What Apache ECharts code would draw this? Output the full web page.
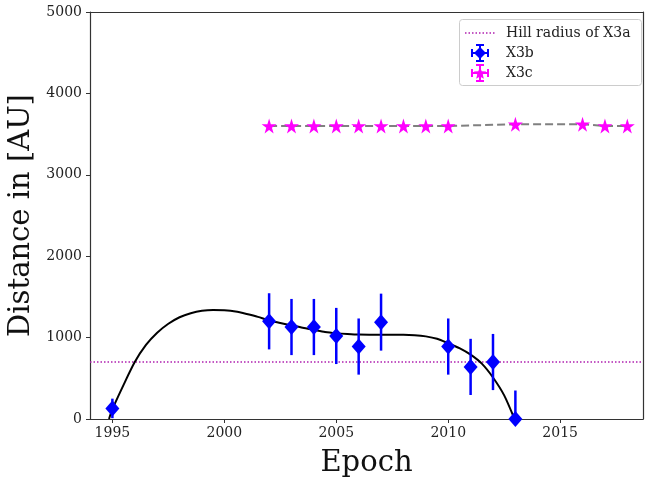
<!DOCTYPE html>
<html>
<head>
<meta charset="utf-8">
<script src="https://cdn.jsdelivr.net/npm/echarts@6/dist/echarts.min.js"></script>
<style>
  html, body { margin: 0; padding: 0; background: #fff; }
  #chart { width: 645px; height: 479px; }
</style>
</head>
<body>
<div id="chart"></div>
<script>
// X3b measurements: epoch, distance, error
var b_epoch = [1995, 2002, 2003, 2004, 2005, 2006, 2007, 2010, 2011, 2012, 2013];
var b_dist  = [130, 1200, 1130, 1130, 1020, 890, 1190, 890, 640, 700, 0];
var b_err   = [120, 345, 345, 345, 345, 345, 350, 345, 345, 345, 350];

// X3c measurements
var c_epoch = [2002, 2003, 2004, 2005, 2006, 2007, 2008, 2009, 2010, 2013, 2016, 2017, 2018];
var c_dist  = [3600, 3600, 3600, 3600, 3600, 3600, 3600, 3600, 3600, 3620, 3620, 3600, 3600];

// fitted curve for X3b
var fit_epoch = [1994.85, 1995, 1995.5, 1996, 1996.5, 1997, 1997.5, 1998, 1998.5, 1999, 1999.5, 2000,
                 2000.5, 2001, 2001.5, 2002, 2002.5, 2003, 2003.5, 2004, 2004.5, 2005, 2005.5, 2006,
                 2007, 2008, 2008.5, 2009, 2009.5, 2010, 2010.5, 2011, 2011.5, 2012, 2012.5, 2012.96];
var fit_dist  = [0, 120, 420, 700, 910, 1060, 1170, 1250, 1300, 1330, 1340, 1335,
                 1320, 1290, 1255, 1210, 1180, 1150, 1120, 1095, 1070, 1055, 1045, 1038,
                 1035, 1035, 1030, 1015, 985, 930, 870, 790, 680, 510, 290, 0];

var hill_radius = 700;
var x_ticks = [1995, 2000, 2005, 2010, 2015];

var serif = "'DejaVu Serif', 'Liberation Serif', serif";
var star = 'path://M50,0 L61,35 L98,35 L68,57 L79,91 L50,70 L21,91 L32,57 L2,35 L39,35 Z';

var chart = echarts.init(document.getElementById('chart'));

function zip(a, b) {
	var out = [];
	for (var i = 0; i < a.length; i++) out.push([a[i], b[i]]);
	return out;
}

var errData = [];
for (var i = 0; i < b_epoch.length; i++) {
	errData.push([b_epoch[i], b_dist[i] - b_err[i], b_dist[i] + b_err[i]]);
}

function renderErr(params, api) {
	var lo = api.coord([api.value(0), api.value(1)]);
	var hi = api.coord([api.value(0), api.value(2)]);
	return {
		type: 'line',
		shape: { x1: lo[0], y1: lo[1], x2: hi[0], y2: hi[1] },
		style: { stroke: '#0000ff', lineWidth: 2.5 }
	};
}

// 图例 (legend drawn by hand to match matplotlib)
var lx = 480;
function errIcon(cx, cy, color) {
	var s = { stroke: color, lineWidth: 2 };
	return [
		{ type: 'line', shape: { x1: cx - 8, y1: cy, x2: cx + 8, y2: cy }, style: s },
		{ type: 'line', shape: { x1: cx, y1: cy - 8, x2: cx, y2: cy + 8 }, style: s },
		{ type: 'line', shape: { x1: cx - 8, y1: cy - 4, x2: cx - 8, y2: cy + 4 }, style: s },
		{ type: 'line', shape: { x1: cx + 8, y1: cy - 4, x2: cx + 8, y2: cy + 4 }, style: s },
		{ type: 'line', shape: { x1: cx - 4, y1: cy - 8, x2: cx + 4, y2: cy - 8 }, style: s },
		{ type: 'line', shape: { x1: cx - 4, y1: cy + 8, x2: cx + 4, y2: cy + 8 }, style: s }
	];
}
function starPoints(cx, cy, r) {
	var pts = [];
	for (var j = 0; j < 10; j++) {
		var a = -Math.PI / 2 + j * Math.PI / 5;
		var rr = j % 2 === 0 ? r : r * 0.45;
		pts.push([cx + rr * Math.cos(a), cy + rr * Math.sin(a)]);
	}
	return pts;
}
var legendEls = [
	{ type: 'rect', shape: { x: 459.5, y: 19.5, width: 182, height: 66, r: 3 },
	  style: { fill: 'rgba(255,255,255,0.8)', stroke: '#cccccc', lineWidth: 1 } },
	{ type: 'line', shape: { x1: 465, y1: 33, x2: 495, y2: 33 },
	  style: { stroke: '#b020b0', lineWidth: 1.5, lineDash: [1.5, 2] } },
	{ type: 'text', x: 506, y: 33, style: { text: 'Hill radius of X3a', font: '14px ' + serif, fill: '#222', verticalAlign: 'middle' } },
	{ type: 'text', x: 506, y: 53, style: { text: 'X3b', font: '14px ' + serif, fill: '#222', verticalAlign: 'middle' } },
	{ type: 'text', x: 506, y: 73, style: { text: 'X3c', font: '14px ' + serif, fill: '#222', verticalAlign: 'middle' } },
	{ type: 'polygon', shape: { points: [[lx, 47], [lx + 6, 53], [lx, 59], [lx - 6, 53]] }, style: { fill: '#0000ff' }, z: 101 },
	{ type: 'polygon', shape: { points: starPoints(lx, 73.5, 6.5) }, style: { fill: '#ff00ff' }, z: 101 }
];
legendEls = legendEls.concat(errIcon(lx, 53, '#0000ff')).concat(errIcon(lx, 73, '#ff00ff'));
for (var k = 0; k < legendEls.length; k++) {
	if (legendEls[k].z == null) legendEls[k].z = 100;
}

function plain(v) { return String(v); }

var axisCol = '#333333';
var option = {
	animation: false,
	grid: { left: 90, right: 2, top: 12, bottom: 60, outerBoundsMode: 'none', containLabel: false },
	xAxis: [{
		type: 'value', min: 1994, max: 2018.7,
		name: 'Epoch', nameLocation: 'middle', nameGap: 30,
		nameTextStyle: { fontFamily: serif, fontSize: 29, color: '#111' },
		axisLine: { show: true, onZero: false, lineStyle: { color: axisCol, width: 1.2 } },
		axisTick: { show: true, length: 4, customValues: x_ticks, lineStyle: { color: axisCol } },
		axisLabel: { customValues: x_ticks, formatter: plain, fontFamily: serif, fontSize: 14, color: '#222', margin: 7 },
		splitLine: { show: false }
	}, {
		type: 'value', min: 1994, max: 2018.7, position: 'top',
		axisLine: { show: true, onZero: false, lineStyle: { color: axisCol, width: 1.2 } },
		axisTick: { show: false }, axisLabel: { show: false }, splitLine: { show: false }
	}],
	yAxis: [{
		type: 'value', min: 0, max: 5000, interval: 1000,
		name: 'Distance in [AU]', nameLocation: 'middle', nameGap: 53, nameRotate: 90,
		nameTextStyle: { fontFamily: serif, fontSize: 29, color: '#111' },
		axisLine: { show: true, lineStyle: { color: axisCol, width: 1.2 } },
		axisTick: { show: true, length: 4, lineStyle: { color: axisCol } },
		axisLabel: { formatter: plain, fontFamily: serif, fontSize: 14, color: '#222', margin: 8 },
		splitLine: { show: false }
	}, {
		type: 'value', min: 0, max: 5000, position: 'right',
		axisLine: { show: true, lineStyle: { color: axisCol, width: 1.2 } },
		axisTick: { show: false }, axisLabel: { show: false }, splitLine: { show: false }
	}],
	series: [{
		name: 'Hill radius of X3a',
		type: 'line',
		data: [[1994, hill_radius], [2018.7, hill_radius]],
		symbol: 'none',
		lineStyle: { color: '#b020b0', width: 1.5, type: [1.5, 2] },
		z: 1
	}, {
		name: 'fit',
		type: 'line',
		data: zip(fit_epoch, fit_dist),
		smooth: 0.25,
		symbol: 'none',
		lineStyle: { color: '#000', width: 2 },
		z: 2
	}, {
		name: 'X3c line',
		type: 'line',
		data: zip(c_epoch, c_dist),
		symbol: 'none',
		lineStyle: { color: '#808080', width: 2, type: [8, 4] },
		z: 2
	}, {
		name: 'X3b err',
		type: 'custom',
		renderItem: renderErr,
		data: errData,
		clip: true,
		z: 3
	}, {
		name: 'X3b',
		type: 'scatter',
		data: zip(b_epoch, b_dist),
		symbol: 'diamond',
		symbolSize: [14, 16],
		itemStyle: { color: '#0000ff', opacity: 1 },
		z: 4
	}, {
		name: 'X3c',
		type: 'scatter',
		data: zip(c_epoch, c_dist),
		symbol: star,
		symbolSize: 15,
		itemStyle: { color: '#ff00ff', opacity: 1 },
		z: 4
	}],
	graphic: legendEls
};

chart.setOption(option);
</script>
</body>
</html>
